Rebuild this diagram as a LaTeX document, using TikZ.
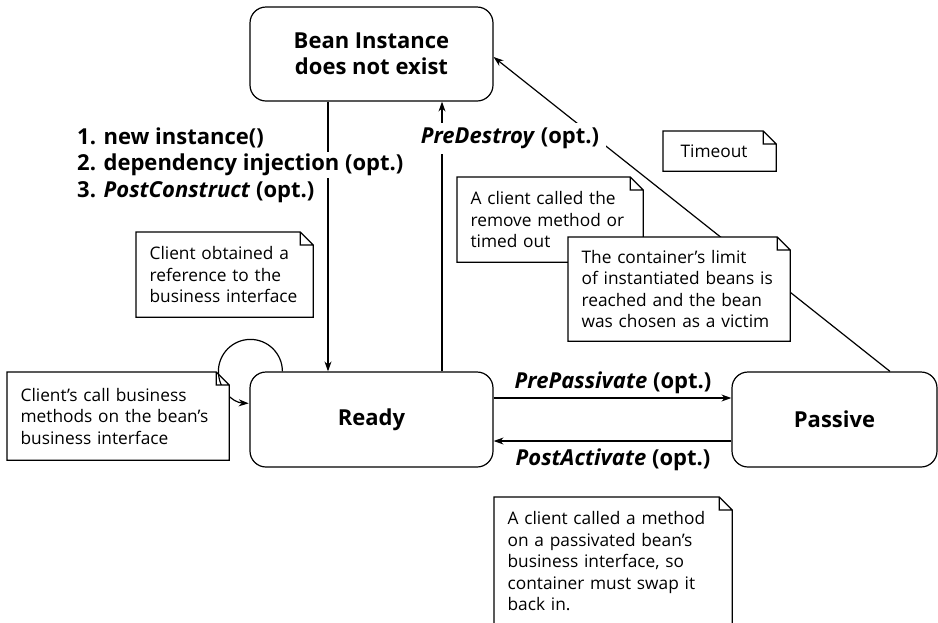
\documentclass[tikz,border=0pt]{standalone}
\usepackage{fontspec}
\setmainfont{Open Sans}
\usetikzlibrary{arrows.meta}
\newdimen\dogfold \dogfold=13pt
\makeatletter
\pgfdeclareshape{dognote}{
  \inheritsavedanchors[from=rectangle]
  \inheritanchorborder[from=rectangle]
  \inheritanchor[from=rectangle]{center}
  \inheritanchor[from=rectangle]{text}
  \inheritanchor[from=rectangle]{base}
  \inheritanchor[from=rectangle]{mid}
  \inheritanchor[from=rectangle]{north}
  \inheritanchor[from=rectangle]{south}
  \inheritanchor[from=rectangle]{east}
  \inheritanchor[from=rectangle]{west}
  \inheritanchor[from=rectangle]{north east}
  \inheritanchor[from=rectangle]{north west}
  \inheritanchor[from=rectangle]{south east}
  \inheritanchor[from=rectangle]{south west}
  \backgroundpath{%
    \southwest \edef\dnxa{\the\pgf@x}\edef\dnya{\the\pgf@y}%
    \northeast \edef\dnxb{\the\pgf@x}\edef\dnyb{\the\pgf@y}%
    \pgfmathsetlengthmacro\dnxc{\dnxb-\dogfold}%
    \pgfmathsetlengthmacro\dnyc{\dnyb-\dogfold}%
    \pgfpathmoveto{\pgfpoint{\dnxa}{\dnya}}%
    \pgfpathlineto{\pgfpoint{\dnxa}{\dnyb}}%
    \pgfpathlineto{\pgfpoint{\dnxc}{\dnyb}}%
    \pgfpathlineto{\pgfpoint{\dnxb}{\dnyc}}%
    \pgfpathlineto{\pgfpoint{\dnxb}{\dnya}}%
    \pgfpathclose
    \pgfpathmoveto{\pgfpoint{\dnxc}{\dnyb}}%
    \pgfpathlineto{\pgfpoint{\dnxc}{\dnyc}}%
    \pgfpathlineto{\pgfpoint{\dnxb}{\dnyc}}%
  }
}
\makeatother
\newcommand{\notefont}{\fontsize{17.3}{21.5}\selectfont}
\newcommand{\labfont}{\fontsize{22}{26.5}\selectfont\bfseries}
\tikzset{
  statebox/.style={draw, line width=1.2pt, rounded corners=16pt, fill=white, align=center, font=\labfont},
  notebox/.style={shape=dognote, draw, fill=white, line width=1.2pt, align=left, inner xsep=13pt, inner ysep=0pt, font=\notefont, anchor=north west},
  arr/.style={line width=1.2pt, -{Stealth[length=10pt,width=7pt]}},
  lab/.style={font=\labfont, inner sep=2pt}
}
\begin{document}
\begin{tikzpicture}[x=1pt,y=-1pt]
\useasboundingbox (0,0) rectangle (938,622);
\fill[white] (0,0) rectangle (938,622);
\clip (0,0) rectangle (938,622);

% states
\node[statebox, minimum width=243pt, minimum height=94pt] (bean) at (371.5,54) {Bean Instance\\does not exist};
\node[statebox, minimum width=243pt, minimum height=95pt] (ready) at (371.5,419.5) {Ready};
\node[statebox, minimum width=205pt, minimum height=95pt] (passive) at (834.5,419.5) {Passive};

% connectors
\draw[arr] ([xshift=-43.5pt]bean.south) -- ([xshift=-43.5pt]ready.north);
\draw[arr] ([xshift=70.5pt]ready.north) -- ([xshift=70.5pt]bean.south);
\draw[arr] ([xshift=55.5pt]passive.north) -- ([yshift=-3pt]bean.east);
\draw[arr] ([yshift=21.5pt]ready.east) -- ([yshift=21.5pt]passive.west);
\draw[arr] ([yshift=-21.5pt]passive.west) -- ([yshift=-21.5pt]ready.east);
\draw[arr] ([xshift=33pt]ready.north west) arc[start angle=0, end angle=-267, radius=32];

% labels
\node[lab, anchor=west] (s1) at (75,138) {1. new instance()};
\node[lab, anchor=west, fill=white] (s2) at (75,165) {2. dependency injection (opt.)};
\node[lab, anchor=west] (s3) at (75,192) {3. \textit{PostConstruct} (opt.)};
\node[lab, fill=white, inner xsep=7pt, inner ysep=5pt] (predestroy) at (510,138) {\textit{PreDestroy} (opt.)};
\node[lab] (prepass) at (613,383) {\textit{PrePassivate} (opt.)};
\node[lab] (postact) at (613,460) {\textit{PostActivate} (opt.)};

% notes
\node[notebox, text width=150pt, minimum height=84pt] (n1) at (136,232) {Client obtained a\\reference to the\\business interface};
\node[notebox, text width=195pt, minimum height=87pt] (n2) at (7,372) {Client’s call business\\methods on the bean’s\\business interface};
\node[notebox, text width=159pt, minimum height=84pt] (n3) at (457,177) {A client called the\\remove method or\\timed out};
\node[notebox, text width=195pt, minimum height=103pt] (n4) at (568,237) {The container’s limit\\of instantiated beans is\\reached and the bean\\was chosen as a victim};
\node[notebox, inner xsep=17pt, text width=78pt, minimum height=39pt] (n5) at (663,131) {Timeout};
\node[notebox, text width=211pt, minimum height=127pt] (n6) at (494,497) {A client called a method\\on a passivated bean’s\\business interface, so\\container must swap it\\back in.};
\end{tikzpicture}
\end{document}
